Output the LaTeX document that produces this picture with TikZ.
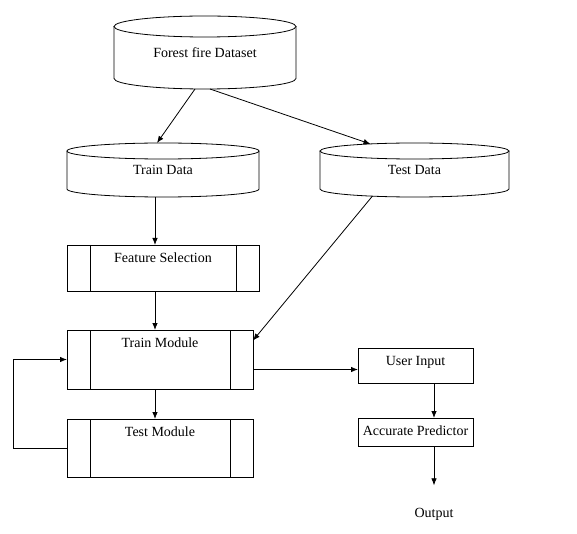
\documentclass[tikz,border=0pt]{standalone}
\usepackage{fontspec}
\setmainfont{Liberation Serif}
\usepackage{tikz}
\usetikzlibrary{calc}
\usetikzlibrary{arrows.meta}

\tikzset{
  every node/.style={font=\fontsize{14}{16}\selectfont},
  box/.style={draw, line width=0.8pt, inner sep=0pt, outer sep=0pt, text height=17.5pt},
  process/.style={box, path picture={
      \draw[line width=0.8pt] ([xshift=23pt]path picture bounding box.north west) -- ([xshift=23pt]path picture bounding box.south west);
      \draw[line width=0.8pt] ([xshift=-23pt]path picture bounding box.north east) -- ([xshift=-23pt]path picture bounding box.south east);}},
  store/.style={inner sep=0pt, outer sep=0pt},
  link/.style={-{Latex[length=7pt,width=5.5pt]}, line width=0.8pt}
}
% drum outline round a store node: name, x radius, y radius
\newcommand{\drum}[3]{%
  \draw[line width=0.8pt] ([yshift=-#3]#1.north west) -- ([yshift=#3]#1.south west)
    arc[start angle=180, end angle=360, x radius=#2, y radius=#3]
    -- ([yshift=-#3]#1.north east);
  \draw[line width=0.8pt] ([yshift=-#3]#1.north) ellipse[x radius=#2, y radius=#3];
}

\begin{document}
\begin{tikzpicture}[x=1pt,y=-1pt]
  \useasboundingbox (0,0) rectangle (577,534);

  % data stores
  \node[store, minimum width=182pt, minimum height=73pt] (fire) at (205,52.5) {Forest fire Dataset};
  \node[store, minimum width=192pt, minimum height=54pt] (train) at (163,170) {Train Data};
  \node[store, minimum width=189pt, minimum height=54pt] (test) at (414.5,170) {Test Data};
  \drum{fire}{91pt}{10.5pt}
  \drum{train}{96pt}{8pt}
  \drum{test}{94.5pt}{8pt}

  % process boxes
  \node[process, minimum width=192pt, text depth=28.5pt] (feat) at (163,268) {Feature Selection};
  \node[process, minimum width=186pt, text depth=41.5pt] (trainmod) at (160,359.5) {Train Module};
  \node[process, minimum width=186pt, text depth=40.5pt] (testmod) at (160,448) {Test Module};
  \node[box, minimum width=115pt, text depth=17.5pt] (user) at (415.5,365.5) {User Input};
  \node[box, minimum width=115pt, text depth=10.5pt] (pred) at (415.5,432) {Accurate Predictor};
  \node (out) at (434,514) {Output};

  % connectors
  \draw[link] ([xshift=-10pt]fire.south) -- ([xshift=-6pt]train.north);
  \draw[link] ([xshift=5pt]fire.south) -- ([xshift=-44pt,yshift=-1pt]test.north);
  \draw[link] ([xshift=-8pt]train.south) -- ([xshift=-8pt]feat.north);
  \draw[link] ([xshift=-8pt]feat.south) -- ([xshift=-5pt]trainmod.north);
  \draw[link] ([xshift=-42pt,yshift=1pt]test.south) -- ([yshift=19pt]trainmod.east);
  \draw[link] ([xshift=-5pt]trainmod.south) -- ([xshift=-5pt]testmod.north);
  \draw[link] (testmod.west) -- ++(-54pt,0pt) |- (trainmod.west);
  \draw[link] ([yshift=-10pt]trainmod.east) -- ([yshift=-10pt]trainmod.east -| user.west);
  \draw[link] ([xshift=18.5pt]user.south) -- ([xshift=18.5pt]pred.north);
  \draw[link] (pred.south -| out.north) -- ([yshift=19pt]out.north);
\end{tikzpicture}
\end{document}
